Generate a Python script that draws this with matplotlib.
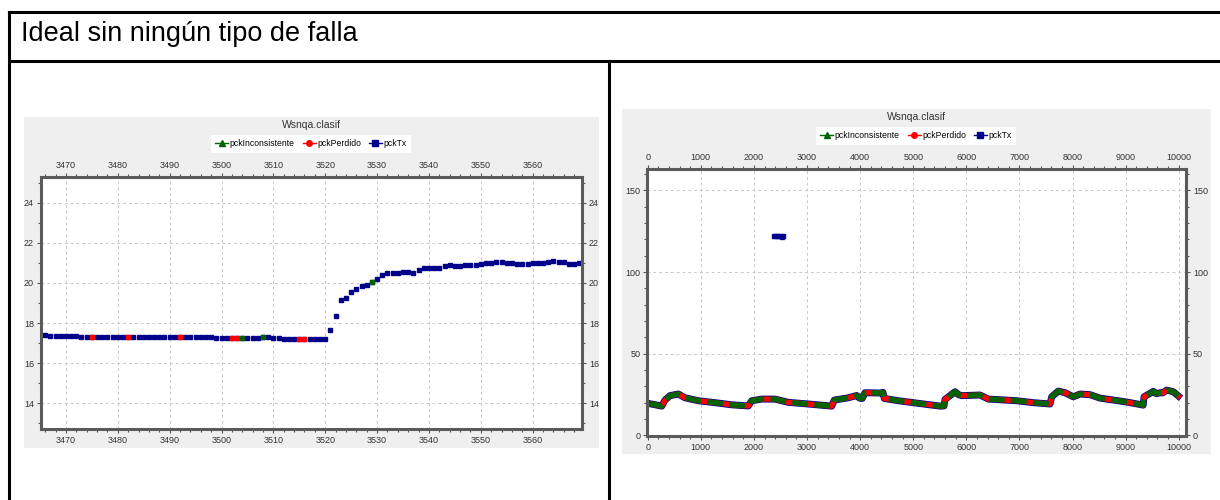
import matplotlib
matplotlib.use("Agg")
import matplotlib.pyplot as plt
from matplotlib.lines import Line2D
from matplotlib.patches import Rectangle
from matplotlib.ticker import MultipleLocator

plt.rcParams['font.family'] = ['Liberation Sans', 'DejaVu Sans']

HEADER = "Ideal sin ningún tipo de falla"
CHART_TITLE = "Wsnqa.clasif"
SERIES = ["pckInconsistente", "pckPerdido", "pckTx"]

# --- zoomed window: frames 3466..3569 ---
zoom_frame = list(range(3466, 3570))
zoom_tx = ([17.42] + [17.38] * 6 + [17.33] * 10 + [17.30] * 10 + [17.33] * 2
           + [17.30] * 4 + [17.25] * 9 + [17.30] * 2 + [17.25] * 2 + [17.22] * 9
           + [17.65, 18.33,
              19.15, 19.25, 19.55, 19.72, 19.83, 19.88, 20.03, 20.18, 20.42, 20.50,
              20.52, 20.52, 20.53, 20.55, 20.50, 20.63, 20.72, 20.72, 20.75, 20.75,
              20.83, 20.88, 20.85, 20.85, 20.88, 20.88, 20.88, 20.92, 20.97, 20.98,
              21.02, 21.03, 21.00, 20.98, 20.95, 20.95, 20.95, 20.98, 20.98, 20.98,
              21.02, 21.07, 21.03, 21.03, 20.92, 20.93, 20.98])
zoom_lost_frame = [3475, 3482, 3492, 3502, 3503, 3515, 3516]
zoom_lost = [17.33, 17.33, 17.30, 17.25, 17.25, 17.22, 17.22]
zoom_bad_frame = [3504, 3508, 3529]
zoom_bad = [17.25, 17.30, 20.03]

# --- full run: frames 0..10000 ---
full_frame = [0, 130, 264, 326, 420, 577, 702, 953, 1267, 1582, 1895, 1958, 2147,
              2397, 2648, 3024, 3465, 3514, 3778, 3936, 3990, 4040, 4092, 4407,
              4430, 4456, 4720, 5002, 5505, 5580, 5599, 5700, 5787, 5850, 5913,
              6258, 6415, 6949, 7262, 7576, 7608, 7732, 7859, 8015, 8141, 8330,
              8518, 9021, 9303, 9330, 9347, 9522, 9580, 9648, 9700, 9774, 9899, 9993]
full_tx = [19.6, 18.8, 17.9, 21.6, 24.3, 25.3, 23.0, 21.2, 20.0, 18.7, 18.0, 21.2,
           22.2, 22.2, 20.2, 19.2, 17.9, 21.6, 23.0, 24.4, 22.8, 22.6, 26.1, 25.9,
           26.3, 22.6, 21.2, 20.0, 17.9, 18.0, 22.0, 24.5, 26.7, 25.0, 24.3, 24.7,
           22.2, 21.2, 20.0, 19.2, 23.6, 27.1, 26.1, 23.6, 25.3, 24.9, 22.8, 20.4,
           18.7, 18.5, 23.6, 26.9, 25.5, 26.1, 26.0, 27.7, 26.7, 24.1]
spike_frame = [2380, 2420, 2460, 2500, 2520, 2545]
spike_tx = [122.3, 122.3, 122.2, 122.2, 121.4, 122.2]

W, H = 1220, 500
fig = plt.figure(figsize=(W / 100, H / 100), dpi=100)


def fx(px):
    return px / W


def fy(py):
    return 1 - py / H


# table frame
for x0, y0, x1, y1 in [(9, 12, W, 12), (9, 61, W, 61), (9, 12, 9, H), (609, 61, 609, H)]:
    fig.add_artist(Line2D([fx(x0), fx(x1)], [fy(y0), fy(y1)], color='black', lw=2.2))

fig.text(fx(21), fy(41), HEADER, fontsize=19.5, va='baseline', ha='left')

# gray chart backgrounds
for x0, y0, x1, y1 in [(24, 117, 599, 448), (622, 109, 1211, 454)]:
    fig.add_artist(Rectangle((fx(x0), fy(y1)), fx(x1 - x0), (y1 - y0) / H,
                             facecolor='#efefef', edgecolor='none', zorder=0))


def style_axes(ax, xmaj, xmin, ymaj, ymin):
    ax.set_facecolor('white')
    for s in ax.spines.values():
        s.set_linewidth(2.2)
        s.set_color('#5a5a5a')
    ax.xaxis.set_major_locator(MultipleLocator(xmaj))
    ax.xaxis.set_minor_locator(MultipleLocator(xmin))
    ax.yaxis.set_major_locator(MultipleLocator(ymaj))
    ax.yaxis.set_minor_locator(MultipleLocator(ymin))
    ax.tick_params(which='both', direction='out', top=True, right=True,
                   labeltop=True, labelright=True, colors='#555555',
                   labelcolor='#333333', labelsize=6.5, pad=2)
    ax.tick_params(which='major', length=3, width=0.8)
    ax.tick_params(which='minor', length=2, width=0.8)
    ax.grid(True, which='major', color='#c8c8c8', lw=0.7, ls=(0, (3, 3)))
    ax.set_axisbelow(True)


handles = [
    Line2D([], [], color='#006400', marker='^', markersize=4, lw=1),
    Line2D([], [], color='red', marker='o', markersize=4, lw=1),
    Line2D([], [], color='#00008b', marker='s', markersize=4, lw=1),
]


def add_legend(cx, cy):
    fig.legend(handles, SERIES, loc='center', bbox_to_anchor=(fx(cx), fy(cy)),
               ncol=3, fontsize=6.2, frameon=True, fancybox=False,
               facecolor='white', edgecolor='none', framealpha=1,
               handlelength=1.5, handletextpad=0.2, columnspacing=0.9,
               borderpad=0.5)


# left chart: zoomed window
ax1 = fig.add_axes([fx(41), fy(429), fx(582 - 41), (429 - 177) / H])
style_axes(ax1, 10, 2, 2, 1)
ax1.plot(zoom_frame, zoom_tx, ls='none', marker='s', ms=3.4, color='#00008b')
ax1.plot(zoom_lost_frame, zoom_lost, ls='none', marker='s', ms=3.4, color='red')
ax1.plot(zoom_bad_frame, zoom_bad, ls='none', marker='s', ms=3.4, color='#006400')
ax1.set_xlim(3465.2, 3569.5)
ax1.set_ylim(12.72, 25.28)
fig.text(fx(311), fy(125), CHART_TITLE, fontsize=7.5, color='#333333',
         ha='center', va='center')
add_legend(311, 144)

# right chart: full run
ax2 = fig.add_axes([fx(647.3), fy(436), fx(1186 - 647.3), (436 - 169.3) / H])
style_axes(ax2, 1000, 200, 50, 10)
ax2.plot(full_frame, full_tx, color='#00008b', lw=5, solid_joinstyle='round')
ax2.plot(full_frame, full_tx, color='red', lw=3.8)
ax2.plot(full_frame, full_tx, color='#006400', lw=3.8, ls=(0, (3, 1.2)))
ax2.plot(spike_frame, spike_tx, ls='none', marker='s', ms=3.4, color='#00008b')
ax2.set_xlim(-8, 10137)
ax2.set_ylim(-0.4, 162.9)
fig.text(fx(916), fy(117), CHART_TITLE, fontsize=7.5, color='#333333',
         ha='center', va='center')
add_legend(916, 136)

fig.savefig('out.png', dpi=100)
